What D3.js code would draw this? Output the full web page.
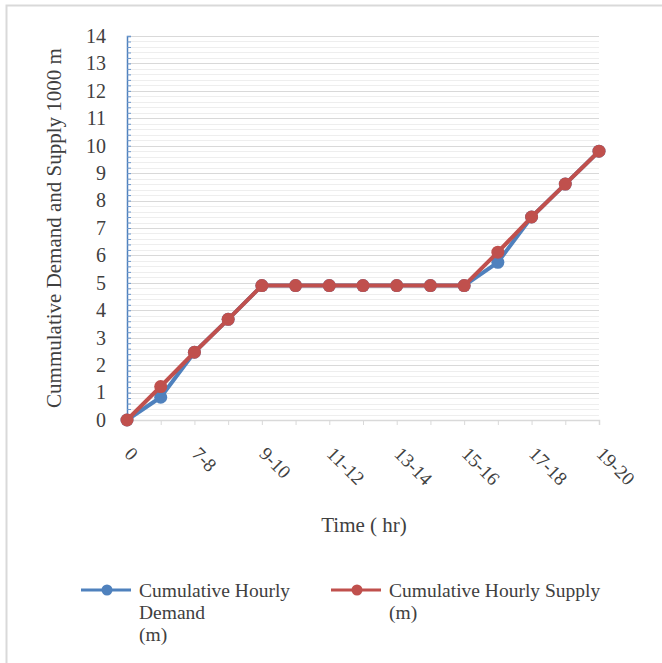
<!DOCTYPE html>
<html>
<head>
<meta charset="utf-8">
<script src="https://cdn.jsdelivr.net/npm/d3@7"></script>
<style>
  body { margin: 0; background: #fff; }
  text { font-family: "Liberation Serif", "Times New Roman", serif; fill: #404040; }
</style>
</head>
<body>
<div id="chart"></div>
<script>
// data
var periods = ["0", "6-7", "7-8", "8-9", "9-10", "10-11", "11-12", "12-13",
               "13-14", "14-15", "15-16", "16-17", "17-18", "18-19", "19-20"];
var demand = [0, 0.83, 2.47, 3.67, 4.9, 4.9, 4.9, 4.9, 4.9, 4.9, 4.9, 5.75, 7.4, 8.6, 9.8];
var supply = [0, 1.22, 2.47, 3.67, 4.9, 4.9, 4.9, 4.9, 4.9, 4.9, 4.9, 6.12, 7.4, 8.6, 9.8];
var yTicks = [0, 1, 2, 3, 4, 5, 6, 7, 8, 9, 10, 11, 12, 13, 14];

var seriesNames = [["Cumulative Hourly", "Demand", "(m)"], ["Cumulative Hourly Supply", "(m)"]];
var colors = ["#4f81bd", "#c0504d"];

var w = 662, h = 663;
var margin = {top: 36, right: 63, bottom: 243, left: 127};
var width = w - margin.left - margin.right,
    height = h - margin.top - margin.bottom;

var svg = d3.select("#chart").append("svg")
    .attr("width", w)
    .attr("height", h);

// outer frame
svg.append("path")
    .attr("d", "M6.5," + h + "V5.5H" + w)
    .attr("fill", "none")
    .attr("stroke", "#d9d9d9")
    .attr("stroke-width", 2);

var g = svg.append("g")
    .attr("transform", "translate(" + margin.left + "," + margin.top + ")");

var x = d3.scalePoint().domain(periods).range([0, width]);
var y = d3.scaleLinear().domain([0, 14]).range([height, 0]);

// minor gridlines every 0.2
var minor = d3.range(0, 70).map(function(i) { return i / 5; }).filter(function(v) { return Math.round(v * 5) % 5 != 0; });
g.append("g").selectAll("line")
    .data(minor)
    .enter().append("line")
    .attr("x1", 0).attr("x2", width)
    .attr("y1", function(d) { return Math.round(y(d)) + 0.5; })
    .attr("y2", function(d) { return Math.round(y(d)) + 0.5; })
    .attr("stroke", "#eeeeee");

// major gridlines
g.append("g").selectAll("line")
    .data(yTicks)
    .enter().append("line")
    .attr("x1", 0).attr("x2", width)
    .attr("y1", function(d) { return Math.round(y(d)) + 0.5; })
    .attr("y2", function(d) { return Math.round(y(d)) + 0.5; })
    .attr("stroke", "#d9d9d9");

// x axis
var xAxis = d3.axisBottom(x).tickSize(5).tickFormat(function(d, i) { return i % 2 == 0 ? d : ""; });
var xg = g.append("g")
    .attr("transform", "translate(0," + height + ")")
    .call(xAxis);
xg.select(".domain").attr("stroke", "#d9d9d9").attr("stroke-width", 1.5);
xg.selectAll(".tick line").attr("stroke", "#d9d9d9");
xg.selectAll(".tick text")
    .style("font-size", "19px")
    .attr("fill", "#404040")
    .attr("text-anchor", "start")
    .attr("x", 0).attr("y", 0).attr("dy", 0)
    .attr("transform", "translate(-4,35) rotate(45)");

// y axis
var yAxis = d3.axisLeft(y).tickValues(yTicks).tickSize(0).tickPadding(21);
var yg = g.append("g").call(yAxis);
yg.select(".domain").remove();
yg.selectAll(".tick text").style("font-size", "20px").attr("fill", "#404040");

// blue axis line with inside ticks
var yMinor = d3.axisRight(y).tickValues(d3.range(0, 71).map(function(i) { return i / 5; })).tickSize(4).tickFormat("");
var ym = g.append("g").call(yMinor);
ym.select(".domain").attr("stroke", "#4f81bd").attr("stroke-width", 1.5);
ym.selectAll(".tick line").attr("stroke", "#6a96cc");

// lines and markers
var line = d3.line()
    .x(function(d, i) { return x(periods[i]); })
    .y(function(d) { return y(d); });

[demand, supply].forEach(function(vals, k) {
    g.append("path")
        .datum(vals)
        .attr("d", line)
        .attr("fill", "none")
        .attr("stroke", colors[k])
        .attr("stroke-width", 4)
        .attr("stroke-linejoin", "round");
    g.append("g").selectAll("circle")
        .data(vals)
        .enter().append("circle")
        .attr("cx", function(d, i) { return x(periods[i]); })
        .attr("cy", function(d) { return y(d); })
        .attr("r", 6.5)
        .attr("fill", colors[k]);
});

// axis titles
svg.append("text")
    .attr("transform", "translate(61," + (margin.top + height / 2) + ") rotate(-90)")
    .attr("text-anchor", "middle")
    .style("font-size", "21px")
    .text("Cummulative Demand and Supply 1000 m");

svg.append("text")
    .attr("x", 364).attr("y", 532)
    .attr("text-anchor", "middle")
    .style("font-size", "21px")
    .text("Time ( hr)");

// legend
var legendX = [81, 331];
seriesNames.forEach(function(lines, k) {
    var lg = svg.append("g").attr("transform", "translate(" + legendX[k] + ",590)");
    lg.append("line")
        .attr("x1", 0).attr("x2", 50)
        .attr("stroke", colors[k]).attr("stroke-width", 3);
    lg.append("circle").attr("cx", 26).attr("r", 5.5).attr("fill", colors[k]);
    lines.forEach(function(t, j) {
        lg.append("text")
            .attr("x", 58).attr("y", 7 + j * 22)
            .style("font-size", "19.5px")
            .text(t);
    });
});
</script>
</body>
</html>
